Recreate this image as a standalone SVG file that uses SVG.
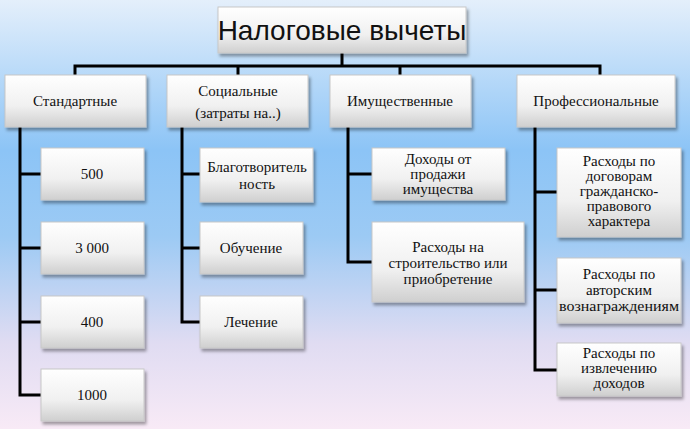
<svg xmlns="http://www.w3.org/2000/svg" width="690" height="429" viewBox="0 0 690 429">
<defs>
<linearGradient id="bg" x1="0" y1="0" x2="0" y2="1">
<stop offset="0" stop-color="#e4effb"/><stop offset="0.35" stop-color="#8cc4f6"/><stop offset="0.55" stop-color="#9ccaf4"/><stop offset="0.8" stop-color="#e0dcf2"/><stop offset="1" stop-color="#f8eaf6"/>
</linearGradient>
<linearGradient id="box" x1="0" y1="0" x2="0" y2="1">
<stop offset="0" stop-color="#ffffff"/><stop offset="0.6" stop-color="#f0f0f0"/><stop offset="1" stop-color="#cfcfcf"/>
</linearGradient>
<filter id="sh" x="-10%" y="-10%" width="130%" height="140%"><feDropShadow dx="2" dy="3" stdDeviation="1.5" flood-color="#000" flood-opacity="0.35"/></filter>
</defs>
<style>
.b{fill:url(#box);stroke:#c8c8c8;stroke-width:1;filter:url(#sh)}
.t text{font-size:15px;fill:#111;text-anchor:middle}
.c{fill:none;stroke:#000;stroke-width:3}
</style>
<rect width="690" height="429" fill="url(#bg)"/>
<g id="connectors" class="c">
<path d="M342 53V66M75 75V66H600V75M238 66V75M400 66V75"/>
<path d="M20 127V395H41M20 174H41M20 248H41M20 322H41"/>
<path d="M182 127V322H200M182 174H200M182 248H200"/>
<path d="M348 127V262H372M348 174H372"/>
<path d="M535 127V370H557M535 192H557M535 290H557"/>
</g>
<g class="t" font-family="Liberation Serif, DejaVu Serif, serif">
<g id="root"><rect class="b" x="218" y="7" width="248" height="46"/><text x="342" y="40" font-family="Liberation Sans, sans-serif" style="font-size:28px">Налоговые вычеты</text></g>
<g id="n1"><rect class="b" x="5" y="75" width="141" height="52"/><text x="75" y="106">Стандартные</text></g>
<g id="n2"><rect class="b" x="167" y="75" width="141" height="52"/><text x="238" y="96">Социальные</text><text x="238" y="118">(затраты на..)</text></g>
<g id="n3"><rect class="b" x="330" y="75" width="141" height="52"/><text x="400" y="106">Имущественные</text></g>
<g id="n4"><rect class="b" x="517" y="75" width="158" height="52"/><text x="596" y="106">Профессиональные</text></g>
<g id="s1"><rect class="b" x="41" y="148" width="103" height="52"/><text x="92" y="179">500</text></g>
<g id="s2"><rect class="b" x="41" y="222" width="103" height="52"/><text x="92" y="253">3 000</text></g>
<g id="s3"><rect class="b" x="41" y="296" width="103" height="52"/><text x="92" y="327">400</text></g>
<g id="s4"><rect class="b" x="41" y="369" width="103" height="52"/><text x="92" y="400">1000</text></g>
<g id="c1"><rect class="b" x="200" y="148" width="113" height="54"/><text x="257" y="172">Благотворитель</text><text x="257" y="189">ность</text></g>
<g id="c2"><rect class="b" x="200" y="222" width="103" height="52"/><text x="251" y="253">Обучение</text></g>
<g id="c3"><rect class="b" x="200" y="296" width="103" height="52"/><text x="251" y="327">Лечение</text></g>
<g id="p1"><rect class="b" x="372" y="148" width="133" height="52"/><text x="438" y="164">Доходы от</text><text x="438" y="179">продажи</text><text x="438" y="194">имущества</text></g>
<g id="p2"><rect class="b" x="372" y="222" width="152" height="80"/><text x="448" y="252">Расходы на</text><text x="448" y="268">строительство или</text><text x="448" y="284">приобретение</text></g>
<g id="f1"><rect class="b" x="557" y="148" width="124" height="89"/><text x="619" y="166">Расходы по</text><text x="619" y="181">договорам</text><text x="619" y="196">гражданско-</text><text x="619" y="211">правового</text><text x="619" y="226">характера</text></g>
<g id="f2"><rect class="b" x="557" y="258" width="124" height="65"/><text x="619" y="279">Расходы по</text><text x="619" y="295">авторским</text><text x="619" y="311" textLength="120" lengthAdjust="spacingAndGlyphs">вознаграждениям</text></g>
<g id="f3"><rect class="b" x="557" y="343" width="124" height="53"/><text x="619" y="358">Расходы по</text><text x="619" y="373">извлечению</text><text x="619" y="388">доходов</text></g>
</g>
</svg>
